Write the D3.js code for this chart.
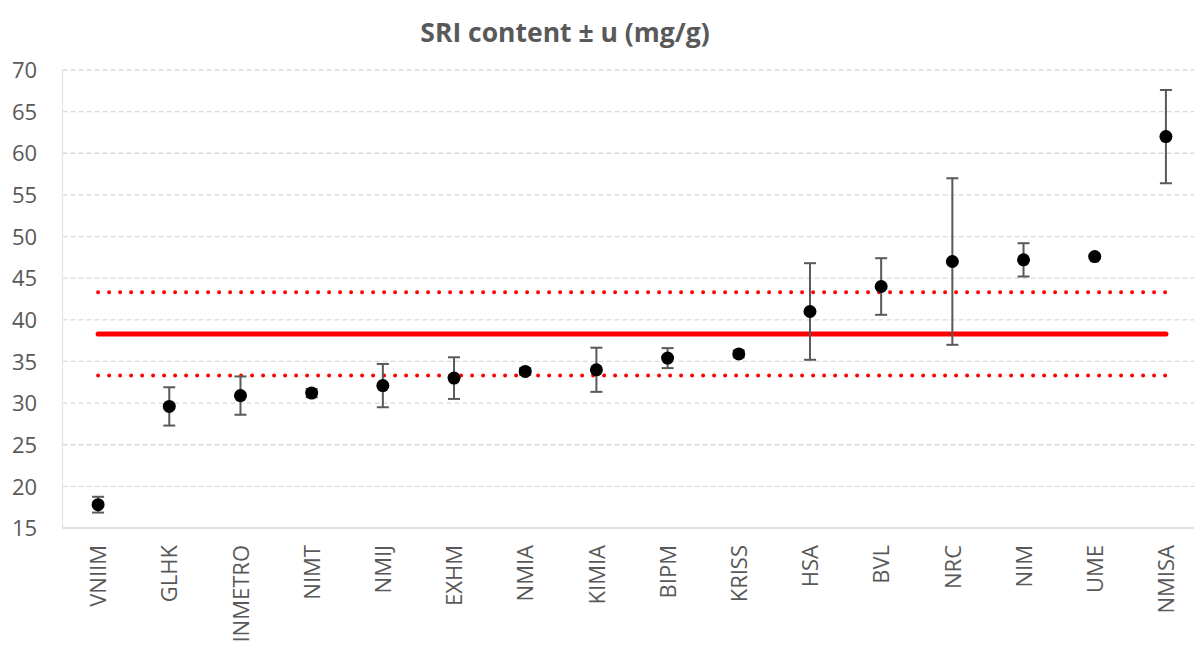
<!DOCTYPE html>
<html><head><meta charset="utf-8">
<script src="https://cdn.jsdelivr.net/npm/d3@7"></script>
<style>body{margin:0;background:#fff;} svg{display:block;}</style>
</head><body>
<svg id="c" width="1194" height="652"></svg>
<script>
const categories = ["VNIIM","GLHK","INMETRO","NIMT","NMIJ","EXHM","NMIA","KIMIA","BIPM","KRISS","HSA","BVL","NRC","NIM","UME","NMISA"];
const values =      [17.8, 29.6, 30.9, 31.2, 32.1, 33.0, 33.8, 34.0, 35.4, 35.9, 41.0, 44.0, 47.0, 47.2, 47.6, 62.0];
const uncertainty = [0.95, 2.3, 2.3, 0.5, 2.6, 2.5, 0.4, 2.65, 1.2, 0.4, 5.8, 3.4, 10.0, 2.0, 0.2, 5.6];
const yTicks = [15,20,25,30,35,40,45,50,55,60,65,70];
const refValue = 38.3;
const refBand = [33.3, 43.3];
const title = "SRI content ± u (mg/g)";

const svg = d3.select("#c");
const m = {left: 62.5, right: 1201.5, top: 70, bottom: 528};
const x = d3.scalePoint().domain(categories).range([m.left, m.right]).padding(0.5);
const y = d3.scaleLinear().domain([15,70]).range([m.bottom, m.top]);
const font = "'Open Sans', 'Liberation Sans', sans-serif";

// gridlines
svg.append("g").selectAll("line").data(yTicks.filter(d=>d>15)).join("line")
  .attr("x1", m.left).attr("x2", 1194).attr("y1", d=>y(d)).attr("y2", d=>y(d))
  .attr("stroke", "#d9d9d9").attr("stroke-width", 1.3).attr("stroke-dasharray", "5,3");

// axes lines
svg.append("line").attr("x1", m.left).attr("x2", m.left).attr("y1", m.top).attr("y2", m.bottom)
  .attr("stroke", "#ebe6dc").attr("stroke-width", 1.3);
svg.append("line").attr("x1", m.left).attr("x2", 1194).attr("y1", m.bottom).attr("y2", m.bottom)
  .attr("stroke", "#d9d9d9").attr("stroke-width", 1.3);

// y axis labels
const yAxis = d3.axisLeft(y).tickValues(yTicks).tickSize(0).tickPadding(8);
const ya = svg.append("g").attr("transform", `translate(${m.left},0)`).call(yAxis);
ya.select(".domain").remove();
ya.selectAll("text").attr("font-family", font).attr("font-size", 22).attr("fill", "#595959")
  .attr("x", -38).attr("text-anchor", "middle").attr("dy", "0.35em");

// x axis labels
const xAxis = d3.axisBottom(x).tickSize(0);
const xa = svg.append("g").attr("transform", `translate(0,${m.bottom})`).call(xAxis);
xa.select(".domain").remove();
xa.selectAll("text").attr("font-family", font).attr("font-size", 22).attr("fill", "#595959")
  .attr("transform", "rotate(-90)").attr("text-anchor", "end").attr("x", -17).attr("y", 0).attr("dy", "0.35em");

// reference lines
const x0 = x(categories[0]), x1 = x(categories[categories.length-1]);
svg.append("line").attr("x1", x0).attr("x2", x1).attr("y1", y(refValue)).attr("y2", y(refValue))
  .attr("stroke", "#ff0000").attr("stroke-width", 5).attr("stroke-linecap", "round");
refBand.forEach(v => {
  svg.append("line").attr("x1", x0).attr("x2", x1).attr("y1", y(v)).attr("y2", y(v))
    .attr("stroke", "#ff0000").attr("stroke-width", 4).attr("stroke-linecap", "round")
    .attr("stroke-dasharray", "0,11");
});

// error bars
const eb = svg.append("g").attr("stroke", "#595959").attr("stroke-width", 2);
categories.forEach((c, i) => {
  const cx = x(c), lo = y(values[i]-uncertainty[i]), hi = y(values[i]+uncertainty[i]);
  eb.append("line").attr("x1", cx).attr("x2", cx).attr("y1", lo).attr("y2", hi);
  eb.append("line").attr("x1", cx-6).attr("x2", cx+6).attr("y1", lo).attr("y2", lo);
  eb.append("line").attr("x1", cx-6).attr("x2", cx+6).attr("y1", hi).attr("y2", hi);
});

// points
svg.append("g").selectAll("circle").data(categories).join("circle")
  .attr("cx", d=>x(d)).attr("cy", (d,i)=>y(values[i])).attr("r", 6.5).attr("fill", "#000");

// title
svg.append("text").attr("x", 565).attr("y", 42).attr("text-anchor", "middle")
  .attr("font-family", font).attr("font-weight", "bold").attr("font-size", 26.5).attr("fill", "#595959")
  .text(title);
</script>
</body></html>
